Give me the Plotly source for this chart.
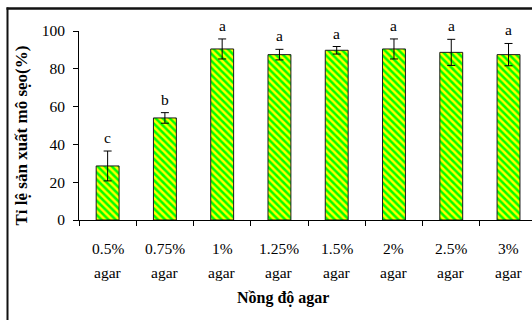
import plotly.graph_objects as go

# Agar concentration groups
concentrations = ["0.5%", "0.75%", "1%", "1.25%", "1.5%", "2%", "2.5%", "3%"]
unit_label = "agar"
# Callus formation rate (%) and standard error
callus_rate = [28.6, 54.0, 90.5, 87.5, 89.8, 90.5, 88.7, 87.5]
callus_err = [7.9, 2.8, 5.3, 2.8, 2.0, 5.3, 6.9, 5.9]
# Significance grouping letters
sig_letters = ["c", "b", "a", "a", "a", "a", "a", "a"]

W, H = 532, 320
# paper origin (FX, FY); frame lines at FRAME_X / FRAME_Y;
# plot area from PL to the right edge, PT to PB (pixels)
FX, FY = 4, 4
FRAME_X, FRAME_Y = 7.5, 8.5
PL, PT, PB = 79, 31, 220
paper_w = W - FX
paper_h = H - FY

FONT = "Liberation Serif"
TXT = 15.5

x_idx = list(range(len(concentrations)))

def pxx(p):
    return (p - FX) / paper_w

def pyy(p):
    return (H - p) / paper_h

fig = go.Figure()
fig.add_trace(go.Bar(
    x=x_idx,
    y=callus_rate,
    width=0.4,
    marker=dict(
        color="#00FF00",
        line=dict(color="#1a1a1a", width=1),
        pattern=dict(shape="\\", fgcolor="#FFFF00", bgcolor="#00FF00",
                     size=5, solidity=0.5, fillmode="replace"),
    ),
    error_y=dict(type="data", array=callus_err, visible=True,
                 color="black", thickness=1, width=4),
    hoverinfo="skip",
))

annotations = []
# significance letters above the error bars
for i, (v, e, s) in enumerate(zip(callus_rate, callus_err, sig_letters)):
    annotations.append(dict(
        x=i, y=v + e, xref="x", yref="y", text=s, showarrow=False,
        yanchor="bottom", yshift=3, font=dict(family=FONT, size=TXT, color="black"),
    ))
# two-line category labels
for i, c in enumerate(concentrations):
    annotations.append(dict(
        x=i, y=pyy(PB), xref="x", yref="paper", text=c, showarrow=False,
        yanchor="middle", yshift=-28, font=dict(family=FONT, size=TXT, color="black"),
    ))
    annotations.append(dict(
        x=i, y=pyy(PB), xref="x", yref="paper", text=unit_label, showarrow=False,
        yanchor="middle", yshift=-52, font=dict(family=FONT, size=TXT, color="black"),
    ))
# axis titles
annotations.append(dict(
    x=pxx(283), y=pyy(298), xref="paper", yref="paper",
    text="<b>Nồng độ agar</b>", showarrow=False,
    xanchor="center", yanchor="middle",
    font=dict(family=FONT, size=16, color="black"),
))
annotations.append(dict(
    x=pxx(21), y=pyy(135.5), xref="paper", yref="paper",
    text="<b>Tỉ lệ sản xuất mô sẹo(%)</b>", showarrow=False, textangle=-90,
    xanchor="center", yanchor="middle",
    font=dict(family=FONT, size=17, color="black"),
))

# chart frame: left and top edges
shapes = [
    dict(type="line", xref="paper", yref="paper",
         x0=pxx(FRAME_X), x1=pxx(FRAME_X), y0=0, y1=pyy(FRAME_Y - 1),
         line=dict(color="#111111", width=2), layer="above"),
    dict(type="line", xref="paper", yref="paper",
         x0=pxx(FRAME_X - 1), x1=1, y0=pyy(FRAME_Y), y1=pyy(FRAME_Y),
         line=dict(color="#111111", width=2.5), layer="above"),
]

fig.update_layout(
    width=W, height=H,
    margin=dict(l=FX, r=0, t=FY, b=0, pad=0, autoexpand=False),
    paper_bgcolor="white", plot_bgcolor="white",
    showlegend=False,
    font=dict(family=FONT, size=TXT, color="black"),
    annotations=annotations,
    shapes=shapes,
    xaxis=dict(
        domain=[pxx(PL), 1],
        type="linear", range=[-0.5, 7.41],
        tickmode="array", tickvals=[i + 0.5 for i in [-1] + x_idx],
        showticklabels=False,
        ticks="outside", ticklen=5, tickcolor="black", tickwidth=1,
        showline=True, linecolor="black", linewidth=1,
        showgrid=False, zeroline=False, fixedrange=True,
    ),
    yaxis=dict(
        domain=[pyy(PB), pyy(PT)],
        range=[0, 100], tickmode="array", tickvals=[0, 20, 40, 60, 80, 100],
        ticks="outside", ticklen=5, tickcolor="black", tickwidth=1,
        showline=True, linecolor="black", linewidth=1,
        showgrid=False, zeroline=False, fixedrange=True,
        tickfont=dict(family=FONT, size=TXT, color="black"),
        ticklabelstandoff=5,
    ),
)

fig.write_html("out.html", config={"displayModeBar": False})
